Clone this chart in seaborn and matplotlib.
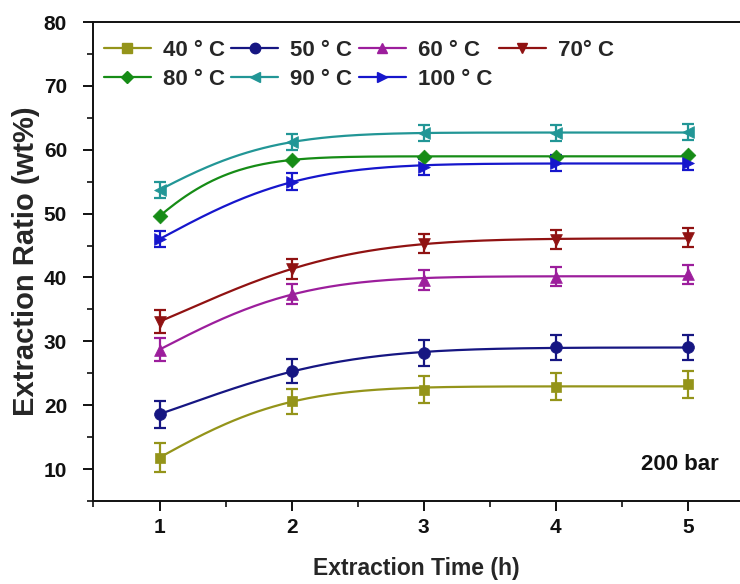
import numpy as np
import pandas as pd
import matplotlib
matplotlib.use("Agg")
import matplotlib.pyplot as plt
from matplotlib.lines import Line2D
import seaborn as sns

sns.set_style("ticks")
plt.rcParams['font.family'] = ['Liberation Sans', 'DejaVu Sans']
plt.rcParams['font.weight'] = 'bold'

time_h = [1, 2, 3, 4, 5]
labels = ["40 ° C", "50 ° C", "60 ° C", "70° C", "80 ° C", "90 ° C", "100 ° C"]
y40 = [11.8, 20.6, 22.4, 22.9, 23.3]
y50 = [18.6, 25.3, 28.2, 29.05, 29.05]
y60 = [28.7, 37.4, 39.6, 40.1, 40.5]
y70 = [33.1, 41.3, 45.3, 45.9, 46.2]
y80 = [49.6, 58.4, 58.9, 58.9, 59.1]
y90 = [53.7, 61.2, 62.6, 62.6, 62.8]
y100 = [46.0, 55.0, 57.3, 57.9, 58.0]
e40 = [2.3, 2.0, 2.1, 2.1, 2.1]
e50 = [2.1, 1.9, 2.0, 1.9, 1.9]
e60 = [1.8, 1.6, 1.6, 1.5, 1.5]
e70 = [1.8, 1.6, 1.5, 1.5, 1.5]
e80 = [0.0, 0.0, 0.0, 0.0, 0.0]
e90 = [1.2, 1.2, 1.2, 1.2, 1.2]
e100 = [1.3, 1.3, 1.2, 1.2, 1.2]

series = [y40, y50, y60, y70, y80, y90, y100]
errors = [e40, e50, e60, e70, e80, e90, e100]
colors = ['#94941A', '#161682', '#9C1E9C', '#901212', '#168C16', '#229696', '#1616CC']
markers = ['s', 'o', '^', 'v', 'D', '<', '>']
msizes = [7.5, 8.5, 8.5, 8.5, 7.5, 8.5, 8.5]


def fit_curve(t, y):
    # saturating fit y = a - b*exp(-k t^2), least squares over a, b with grid over k
    t = np.asarray(t, float)
    y = np.asarray(y, float)
    best = None
    for k in np.linspace(0.05, 2.0, 400):
        A = np.column_stack([np.ones_like(t), -np.exp(-k * t ** 2)])
        coef, *_ = np.linalg.lstsq(A, y, rcond=None)
        r = np.sum((A @ coef - y) ** 2)
        if best is None or r < best[0]:
            best = (r, k, coef)
    _, k, (a, b) = best
    tt = np.linspace(t.min(), t.max(), 200)
    return tt, a - b * np.exp(-k * tt ** 2)


fig = plt.figure(figsize=(7.4, 5.84), dpi=100)
ax = fig.add_axes([93.5 / 740, 83 / 584, (740 - 93.5) / 740, (501 - 22) / 584])

for y, e, c, m, ms in zip(series, errors, colors, markers, msizes):
    tt, yy = fit_curve(time_h, y)
    sns.lineplot(x=tt, y=yy, ax=ax, color=c, lw=1.6, zorder=2, sort=False)
    if max(e) > 0:
        ax.errorbar(time_h, y, yerr=e, fmt='none', ecolor=c, elinewidth=1.6,
                    capsize=4.0, capthick=1.6, zorder=3)
    sns.scatterplot(x=time_h, y=y, ax=ax, color=c, marker=m, s=ms ** 2,
                    edgecolor=c, linewidth=0.5, zorder=4)

ax.set_xlim(0.5, 5.395)
ax.set_ylim(5, 80)
ax.set_xticks([1, 2, 3, 4, 5])
ax.set_xticks(np.arange(0.5, 5.4, 0.5), minor=True)
ax.set_yticks(np.arange(10, 81, 10))
ax.set_yticks(np.arange(5, 81, 5), minor=True)
ax.spines['right'].set_visible(False)
for s in ['left', 'bottom', 'top']:
    ax.spines[s].set_linewidth(1.4)
    ax.spines[s].set_color('#111111')
ax.tick_params(axis='both', which='major', direction='out', length=7, width=1.4,
               labelsize=15, colors='#111111')
ax.tick_params(axis='both', which='minor', direction='out', length=4, width=1.2,
               colors='#111111')
ax.tick_params(axis='y', which='major', pad=12)
ax.tick_params(axis='x', which='major', pad=5)
ax.tick_params(top=False, right=False, which='both')
for lab in ax.get_xticklabels() + ax.get_yticklabels():
    lab.set_fontweight('bold')

ax.set_xlabel("Extraction Time (h)", fontsize=16.5, fontweight='bold', labelpad=15)
ax.set_ylabel("Extraction Ratio (wt%)", fontsize=21, fontweight='bold', labelpad=3)

ax.text(0.967, 0.076, "200 bar", transform=ax.transAxes, ha='right', va='center',
        fontsize=16, fontweight='bold', color='#111111')

handles = [Line2D([0], [0], color=c, lw=1.6, marker=m, markersize=ms - 1,
                  markerfacecolor=c, markeredgecolor=c)
           for c, m, ms in zip(colors, markers, msizes)]
order = [0, 4, 1, 5, 2, 6, 3]
leg = ax.legend([handles[i] for i in order], [labels[i] for i in order],
                ncol=4, loc='upper left', bbox_to_anchor=(0.016, 0.962),
                frameon=False, borderpad=0, borderaxespad=0,
                handlelength=2.1, handletextpad=0.55, columnspacing=0.3,
                labelspacing=0.36, prop={'size': 16, 'weight': 'bold'})

fig.savefig("out.png", dpi=100)
